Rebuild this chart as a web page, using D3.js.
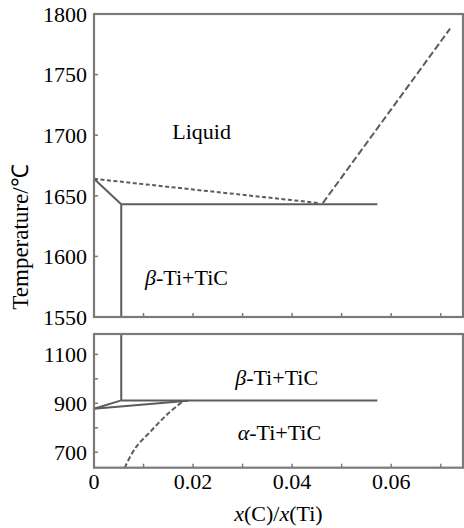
<!DOCTYPE html>
<html>
<head>
<meta charset="utf-8">
<script src="https://cdn.jsdelivr.net/npm/d3@7"></script>
<style>
  html, body { margin: 0; padding: 0; background: #fff; }
</style>
</head>
<body>
<div id="chart"></div>
<script>
// *** tick values
var xTickLabels = [0, 0.02, 0.04, 0.06];
var xMinorTicks = [0.01, 0.02, 0.03, 0.04, 0.05, 0.06, 0.07];
var topYTicks = [1550, 1600, 1650, 1700, 1750, 1800];
var botYTicks = [700, 900, 1100];
var botMinorTicks = [800, 1000];

// *** phase boundaries, upper panel (x(C)/x(Ti), temperature)
var liquidusLeft  = [[0, 1664], [0.0455, 1644]];
var liquidusRight = [[0.0462, 1644], [0.0719, 1788]];
var betaSolidus   = [[0, 1664], [0.0055, 1643]];
var eutecticLine  = [[0.0055, 1643], [0.0572, 1643]];
var betaEdgeTop   = [[0.0055, 1643], [0.0055, 1550]];

// *** phase boundaries, lower panel
var betaEdgeBot   = [[0.0055, 1183], [0.0055, 912]];
var eutectoidLine = [[0.0055, 911], [0.0572, 911]];
var wedgeUpper    = [[0, 878], [0.0055, 912]];
var wedgeLower    = [[0, 878], [0.019, 910]];
var alphaSolvus   = [[0.0062, 637], [0.0083, 716], [0.0117, 791], [0.0150, 859], [0.0178, 906]];

// *** region labels
var topLabels = [
    {x: 0.0158, y: 1697, pre: "", txt: "Liquid"},
    {x: 0.0103, y: 1576, pre: "β", txt: "-Ti+TiC"}
];
var botLabels = [
    {x: 0.0285, y: 975, pre: "β", txt: "-Ti+TiC"},
    {x: 0.0290, y: 750, pre: "α", txt: "-Ti+TiC"}
];

var W = 464, H = 528;
var left = 94, right = 463;
var FONT = "'Liberation Serif', 'Times New Roman', Times, serif";

var x = d3.scaleLinear().domain([0, 0.0745]).range([left, right]);
var yTop = d3.scaleLinear().domain([1550, 1800]).range([317, 14]);
var yBot = d3.scaleLinear().domain([637, 1183]).range([467.7, 334]);

var svg = d3.select("#chart").append("svg")
    .attr("width", W)
    .attr("height", H)
    .style("font-family", FONT);

var frameColor = "#7a7a7a",
    lineColor = "#5c5c5c";

function panel(y, yTicks, yMinor, lines, labels, showX) {
    var g = svg.append("g");
    var y0 = y.range()[0], y1 = y.range()[1];

    // inward ticks, bottom
    g.selectAll(".xt").data(xMinorTicks).enter().append("line")
        .attr("x1", function(d) { return x(d); })
        .attr("x2", function(d) { return x(d); })
        .attr("y1", y0).attr("y2", y0 - 4)
        .attr("stroke", frameColor).attr("stroke-width", 1.5);

    // inward ticks, left
    g.selectAll(".yt").data(yTicks.concat(yMinor)).enter().append("line")
        .attr("x1", left).attr("x2", left + 4)
        .attr("y1", function(d) { return y(d); })
        .attr("y2", function(d) { return y(d); })
        .attr("stroke", frameColor).attr("stroke-width", 1.5);

    g.selectAll(".yl").data(yTicks).enter().append("text")
        .attr("x", left - 7)
        .attr("y", function(d) { return y(d); })
        .attr("dy", "0.35em")
        .attr("text-anchor", "end")
        .style("font-size", "22px")
        .text(function(d) { return d; });

    if (showX) {
        g.selectAll(".xl").data(xTickLabels).enter().append("text")
            .attr("x", function(d) { return x(d); })
            .attr("y", y0 + 21.5)
            .attr("text-anchor", "middle")
            .style("font-size", "22px")
            .text(function(d) { return d; });
    }

    var line = d3.line()
        .x(function(d) { return x(d[0]); })
        .y(function(d) { return y(d[1]); });

    lines.forEach(function(l) {
        g.append("path")
            .attr("d", line.curve(l.curve ? d3.curveCatmullRom : d3.curveLinear)(l.data))
            .attr("fill", "none")
            .attr("stroke", lineColor)
            .attr("stroke-width", 2)
            .attr("stroke-dasharray", l.dash || null);
    });

    labels.forEach(function(lb) {
        var t = g.append("text")
            .attr("x", x(lb.x))
            .attr("y", y(lb.y))
            .style("font-size", "22px");
        if (lb.pre) t.append("tspan").style("font-style", "italic").text(lb.pre);
        t.append("tspan").text(lb.txt);
    });

    // frame
    g.append("rect")
        .attr("x", left).attr("y", y1)
        .attr("width", right - left).attr("height", y0 - y1)
        .attr("fill", "none")
        .attr("stroke", frameColor)
        .attr("stroke-width", 2.2);
}

panel(yTop, topYTicks, [], [
    {data: liquidusLeft, dash: "4,2.5"},
    {data: liquidusRight, dash: "7,3"},
    {data: betaSolidus},
    {data: eutecticLine},
    {data: betaEdgeTop}
], topLabels, false);

panel(yBot, botYTicks, botMinorTicks, [
    {data: betaEdgeBot},
    {data: eutectoidLine},
    {data: wedgeUpper},
    {data: wedgeLower},
    {data: alphaSolvus, dash: "5,2.5", curve: true}
], botLabels, true);

// axis titles
var xt = svg.append("text")
    .attr("x", (left + right) / 2)
    .attr("y", 521)
    .attr("text-anchor", "middle")
    .style("font-size", "22px");
xt.append("tspan").style("font-style", "italic").text("x");
xt.append("tspan").text("(C)/");
xt.append("tspan").style("font-style", "italic").text("x");
xt.append("tspan").text("(Ti)");

svg.append("text")
    .attr("transform", "translate(28,237) rotate(-90)")
    .attr("text-anchor", "middle")
    .style("font-size", "23px")
    .text("Temperature/℃");
</script>
</body>
</html>
